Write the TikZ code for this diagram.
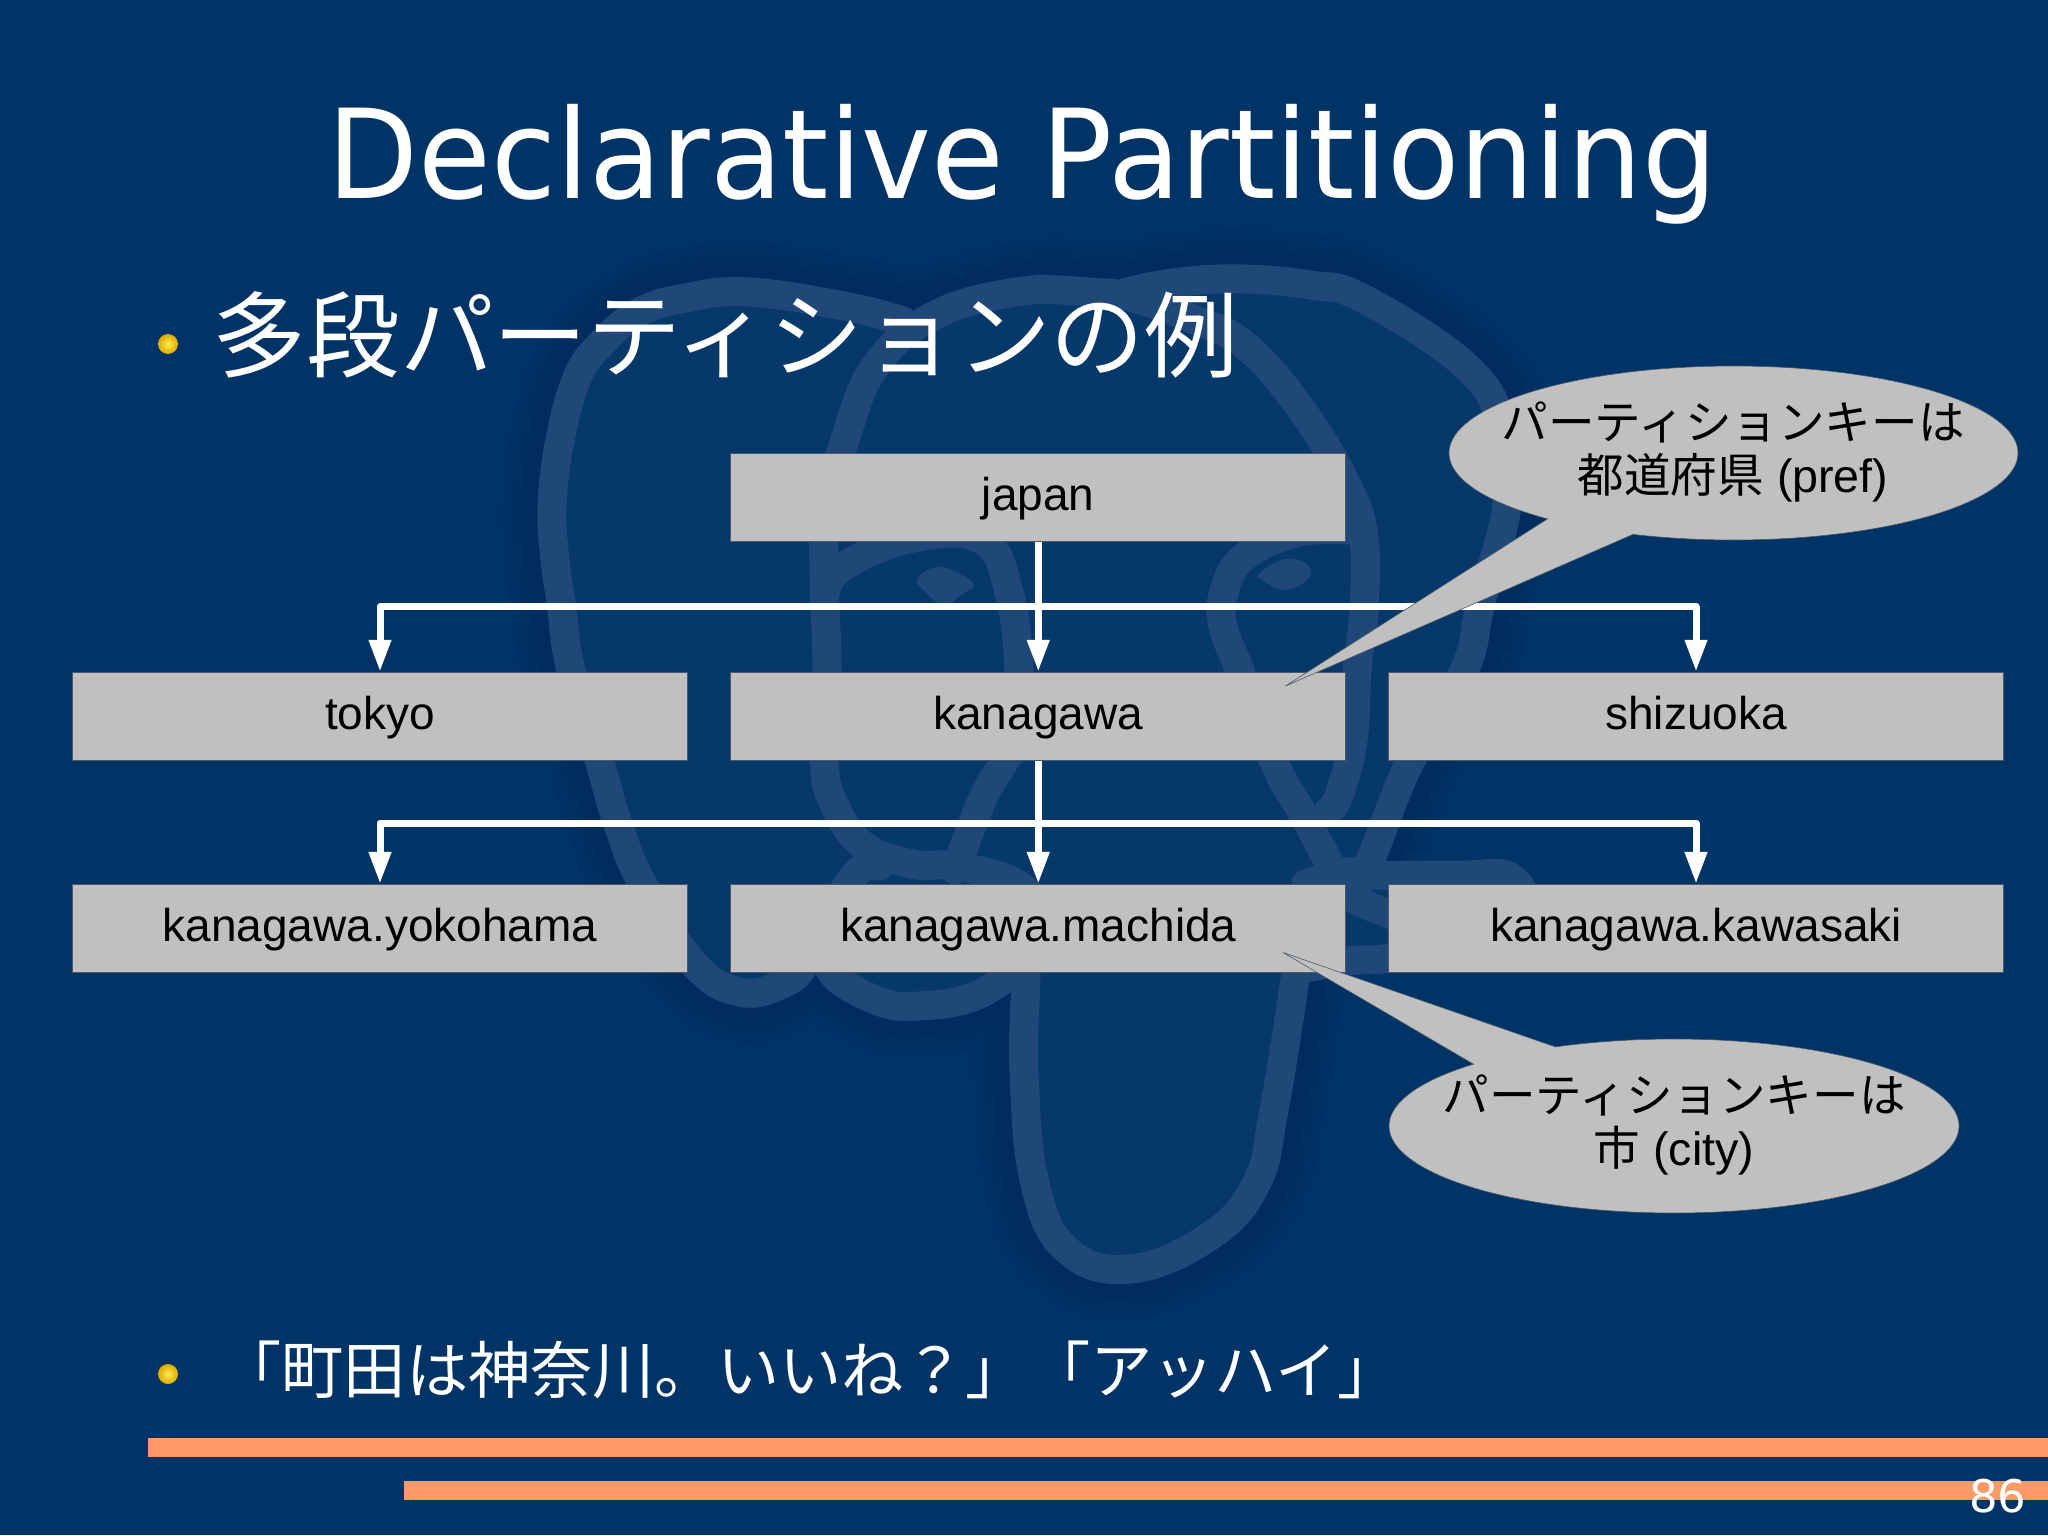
\documentclass[tikz,border=0pt]{standalone}
\usepackage{fontspec}
\setmainfont{Liberation Sans}
\newfontfamily\jpf{Noto Sans CJK JP}
\newfontfamily\titlef{DejaVu Sans}
\usetikzlibrary{arrows.meta,positioning}
\definecolor{bgblue}{HTML}{003366}
\definecolor{bandblue}{HTML}{1F4878}
\definecolor{innerblue}{HTML}{063869}
\definecolor{shadeA}{HTML}{003164}
\definecolor{shadeB}{HTML}{002F61}
\definecolor{shadeC}{HTML}{002C5E}
\definecolor{boxgray}{HTML}{C0C0C0}
\definecolor{barorange}{HTML}{FF9966}
\definecolor{edgegray}{HTML}{4A5A6A}
\definecolor{ballin}{HTML}{FFEE50}
\definecolor{ballout}{HTML}{DDA800}
\tikzset{
  tablebox/.style={rectangle,draw=edgegray,line width=.4pt,fill=boxgray,inner sep=0pt,
    minimum width=307.6pt,minimum height=44.2pt,text=black,
    font=\fontsize{23}{27.5}\selectfont,text height=18pt,text depth=5pt},
  conn/.style={draw=white,line width=3.5pt,line join=round,-{Triangle[length=16pt,width=10.5pt,fill=white]}},
  notetext/.style={align=center,inner sep=0pt,text=black,font=\fontsize{23.3}{26.5}\selectfont},
  notefill/.style={fill=boxgray,draw=edgegray,line width=.3pt,line join=miter},
  bandline/.style={draw=bandblue,line width=14.5pt,smooth,tension=.7,line cap=round},
  shadeline/.style={smooth,tension=.7,line cap=round},
  bar/.style={fill=barorange,draw=none},
  bulletball/.style={inner color=ballin,outer color=ballout}
}
\newcommand{\outerbands}{
  plot coordinates {(922,318) (844,306) (748,292) (685,298) (638,313) (600,345) (577,378) (560,440) (552,505) (555,560) (561,602) (571,671) (599,760) (617,821) (643,885) (695,965) (740,992) (780,985) (805,964)}
  plot coordinates {(840,981) (884,1003) (919,1006) (970,998) (1010,975)}
  plot coordinates {(922,318) (948,309) (1040,289) (1090,292) (1127,292) (1180,282) (1244,279) (1310,285) (1364,299) (1468,368) (1502,430) (1507,505) (1481,602) (1464,671) (1410,762) (1367,868)}
  plot coordinates {(1296,973) (1274,1110) (1256,1184) (1210,1236) (1131,1269) (1067,1250) (1035,1184) (1024,1073) (1026,977)}
}
\begin{document}
\begin{tikzpicture}[x=.5pt,y=-.5pt]
\useasboundingbox (0,0) rectangle (2048,1535);
\fill[bgblue] (0,0) rectangle (2048,1535);
% watermark
\draw[shadeline,shadeA,line width=50pt] \outerbands;
\draw[shadeline,shadeB,line width=40pt] \outerbands;
\draw[shadeline,shadeC,line width=30pt] \outerbands;
\fill[innerblue,smooth cycle,tension=.55] plot coordinates {(922,322) (844,306) (748,292) (685,298) (638,313) (600,345) (577,378) (560,440) (552,505) (555,560) (561,602) (571,671) (599,760) (617,821) (643,885) (695,965) (740,992) (780,985) (820,965) (840,981) (884,1003) (919,1006) (970,998) (1026,985) (1024,1073) (1035,1184) (1067,1250) (1131,1269) (1210,1236) (1256,1184) (1274,1110) (1296,973) (1389,958) (1500,930) (1525,890) (1460,875) (1367,868) (1410,762) (1464,671) (1481,602) (1507,505) (1502,430) (1468,368) (1364,299) (1310,285) (1244,279) (1180,282) (1127,292) (1040,289) (948,309)};
\draw[bandline] plot coordinates {(903,321) (844,306) (748,292) (685,298) (638,313) (600,345) (577,378) (560,440) (552,505) (555,560) (561,602) (571,671) (599,760) (617,821) (643,885) (695,965) (740,992) (780,985) (805,964) (835,905) (860,870) (880,866)};
\draw[bandline] plot coordinates {(1040,289) (948,309) (879,361) (844,443) (826,520) (824,574) (827,671) (824,760) (835,806) (864,846) (912,864) (946,865) (981,871) (1012,881) (1030,895)};
\draw[bandline] plot coordinates {(1040,289) (1090,292) (1130,297) (1190,318) (1247,347) (1306,416) (1350,492) (1364,540) (1364,609) (1357,671) (1353,740) (1339,795) (1328,812)};
\draw[bandline] plot coordinates {(1127,292) (1180,282) (1244,279) (1310,285) (1364,299) (1468,368) (1502,430) (1507,505) (1481,602) (1464,671) (1410,762) (1367,868) (1350,888)};
\draw[bandline] plot coordinates {(1344,530) (1295,533) (1244,557) (1224,592) (1223,626) (1240,671) (1274,762) (1303,814) (1331,866) (1349,895) (1389,914) (1440,935)};
\draw[bandline] plot coordinates {(1296,970) (1347,961) (1389,958) (1440,945)};
\draw[bandline] plot coordinates {(1306,884) (1345,872) (1367,875) (1460,875) (1506,875) (1525,895)};
\draw[bandline] plot coordinates {(1300,940) (1296,973) (1274,1110) (1256,1184) (1210,1236) (1131,1269) (1067,1250) (1035,1184) (1024,1073) (1026,977) (1026,950)};
\draw[bandline] plot coordinates {(826,960) (840,981) (884,1003) (919,1006) (970,998) (1010,975) (1026,960)};
\draw[bandline] plot coordinates {(826,590) (844,566) (913,538) (982,540) (1009,592) (1019,673) (1015,740) (1005,760) (984,796) (963,849) (955,870)};
\fill[bandblue,smooth cycle,tension=.7] plot coordinates {(918,578) (941,567) (973,583) (961,595) (944,605) (925,592)};
\fill[bandblue,smooth cycle,tension=.7] plot coordinates {(1259,574) (1285,559) (1309,566) (1306,581) (1283,590) (1264,581)};
% bars
\fill[bar] (148,1438) rectangle (2048,1457);
\fill[bar] (404,1481) rectangle (2048,1500);
% title and bullets
\node[anchor=base,inner sep=0pt,text=white,font=\titlef\fontsize{62}{70}\selectfont] (title) at (1022.5,198.5) {\scalebox{.953}[1]{Declarative Partitioning}};
\shade[bulletball] (168,344) circle [radius=10];
\node[anchor=base west,inner sep=0pt,text=white,font=\jpf\fontsize{46.9}{50}\selectfont] (head) at (212,371) {多段パーティションの例};
\shade[bulletball] (168,1374) circle [radius=10];
\node[anchor=base west,inner sep=0pt,text=white,font=\jpf\fontsize{31.1}{36}\selectfont] (foot) at (219,1393) {「町田は神奈川。いいね？」「アッハイ」};
\node[anchor=base east,inner sep=0pt,text=white,font=\titlef\fontsize{22.5}{26}\selectfont] (page) at (2027,1512) {86};
% boxes
\node[tablebox] (japan) at (1038.25,497.2) {japan};
\node[tablebox] (tokyo) at (380,716.4) {tokyo};
\node[tablebox] (kanagawa) at (1038.25,716.4) {kanagawa};
\node[tablebox] (shizuoka) at (1696,716.4) {shizuoka};
\node[tablebox] (yokohama) at (380,928.5) {kanagawa.yokohama};
\node[tablebox] (machida) at (1038.25,928.5) {kanagawa.machida};
\node[tablebox] (kawasaki) at (1696,928.5) {kanagawa.kawasaki};
% connectors
\coordinate (busA) at (1038.25,606.7);
\coordinate (busB) at (1038.25,823);
\draw[conn] (japan.south) -- (kanagawa.north);
\draw[conn] (busA) -| (tokyo.north);
\draw[conn] (busA) -| (shizuoka.north);
\draw[conn] (kanagawa.south) -- (machida.north);
\draw[conn] (busB) -| (yokohama.north);
\draw[conn] (busB) -| (kawasaki.north);
% callouts
\coordinate (tipA) at (1285.5,686);
\coordinate (tipB) at (1283,952.5);
\draw[notefill] (tipA) -- plot[domain=110.7:-229.2,samples=140] ({1733.5+284.5*cos(\x)},{453+87*sin(\x)}) -- cycle;
\node[notetext] (noteA) at (1733,452) {{\jpf パーティションキーは}\\{\jpf 都道府県} (pref)};
\draw[notefill] (tipB) -- plot[domain=-114.6:225.3,samples=140] ({1674+285*cos(\x)},{1126+87*sin(\x)}) -- cycle;
\node[notetext] (noteB) at (1674,1125) {{\jpf パーティションキーは}\\{\jpf 市} (city)};
\end{tikzpicture}
\end{document}
